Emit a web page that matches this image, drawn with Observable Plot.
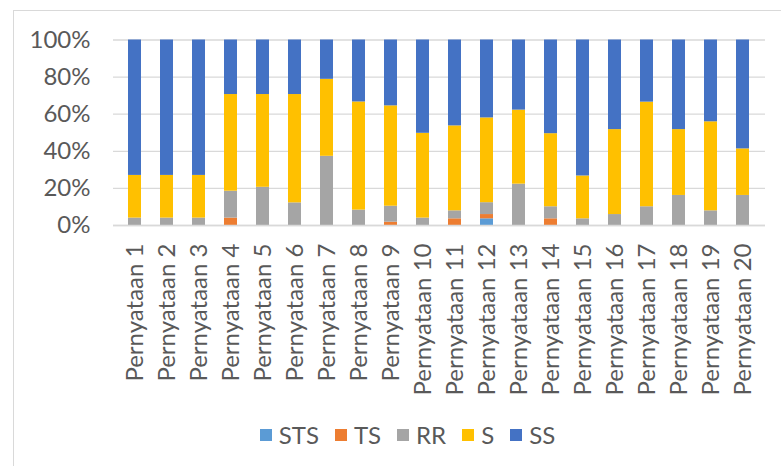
<!DOCTYPE html>
<html>
<head>
<meta charset="utf-8">
<script src="https://cdn.jsdelivr.net/npm/d3@7"></script>
<script src="https://cdn.jsdelivr.net/npm/@observablehq/plot@0.6"></script>
<style>
  html, body { margin: 0; padding: 0; background: #fff; }
  body { width: 781px; height: 466px; overflow: hidden; position: relative; font-family: Lato, "Open Sans", sans-serif; }
  #frame { position: absolute; left: 13px; top: 10px; width: 820px; height: 520px; border: 1px solid #d9d9d9; box-sizing: border-box; }
  #chart { position: absolute; left: 0; top: 0; }
  #legend { position: absolute; left: 13px; top: 420px; width: 789px; display: flex; justify-content: center; font-size: 24px; color: #595959; }
  .item { display: flex; align-items: center; margin: 0 8px; }
  .sw { width: 12px; height: 12px; margin-right: 7px; }
</style>
</head>
<body>
<div id="frame"></div>
<div id="chart"></div>
<div id="legend"></div>
<script>
const categories = ["Pernyataan 1","Pernyataan 2","Pernyataan 3","Pernyataan 4","Pernyataan 5","Pernyataan 6","Pernyataan 7","Pernyataan 8","Pernyataan 9","Pernyataan 10","Pernyataan 11","Pernyataan 12","Pernyataan 13","Pernyataan 14","Pernyataan 15","Pernyataan 16","Pernyataan 17","Pernyataan 18","Pernyataan 19","Pernyataan 20"];
const seriesNames = ["STS","TS","RR","S","SS"];
const STS = [0,0,0,0,0,0,0,0,0,0,0,3.6,0,0,0,0,0,0,0,0];
const TS  = [0,0,0,4,0,0,0,0,1.8,0,3.6,2.3,0,3.6,0,0,0,0,0,0];
const RR  = [4,4,4,14.5,20.6,12.2,37.3,8.3,8.6,4,4.3,6.4,22.3,6.5,3.6,5.9,10.1,16.2,7.9,16.2];
const S   = [23,23,23,52.1,50,58.4,41.5,58.3,54.1,45.7,45.8,45.7,39.9,39.4,23.1,45.8,56.4,35.5,48,25.1];
const SS  = [73,73,73,29.4,29.4,29.4,21.2,33.4,35.5,50.3,46.3,42,37.8,50.5,73.3,48.3,33.5,48.3,44.1,58.7];
const yTicks = [0,20,40,60,80,100];
const colors = ["#5B9BD5","#ED7D31","#A5A5A5","#FFC000","#4472C4"];

const seriesValues = [STS, TS, RR, S, SS];
const data = [];
seriesNames.forEach((name, si) => {
  categories.forEach((cat, ci) => {
    data.push({cat, series: name, value: seriesValues[si][ci]});
  });
});

const chart = Plot.plot({
  width: 781,
  height: 410,
  marginLeft: 113,
  marginRight: 16,
  marginTop: 39.5,
  marginBottom: 185,
  style: {fontFamily: "Lato, sans-serif", fontSize: "24px", color: "#595959", background: "transparent"},
  x: {domain: categories, paddingInner: 0.59, paddingOuter: 0.295, label: null},
  y: {domain: [0, 100], label: null},
  color: {domain: seriesNames, range: colors},
  marks: [
    Plot.gridY(yTicks, {stroke: "#d9d9d9", strokeOpacity: 1, strokeWidth: 1.3}),
    Plot.barY(data, {x: "cat", y: "value", fill: "series", order: seriesNames}),
    Plot.ruleY([0], {stroke: "#d9d9d9", strokeWidth: 1.6}),
    Plot.axisY(yTicks, {tickSize: 0, tickPadding: 23, tickFormat: d => d + "%", fill: "#595959", fontSize: 24, label: null}),
    Plot.axisX({tickSize: 0, tickRotate: -90, tickPadding: 18, fill: "#595959", fontSize: 24, label: null})
  ]
});
document.getElementById("chart").appendChild(chart);

const legend = document.getElementById("legend");
seriesNames.forEach((name, i) => {
  const item = document.createElement("div");
  item.className = "item";
  const sw = document.createElement("div");
  sw.className = "sw";
  sw.style.background = colors[i];
  const t = document.createElement("span");
  t.textContent = name;
  item.appendChild(sw);
  item.appendChild(t);
  legend.appendChild(item);
});
</script>
</body>
</html>
